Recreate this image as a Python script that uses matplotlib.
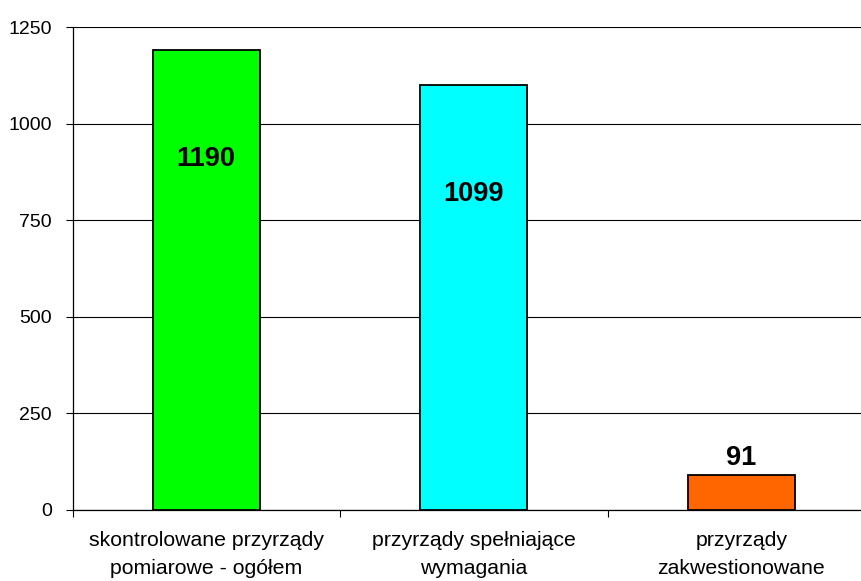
import numpy as np
import matplotlib
matplotlib.use("Agg")
import matplotlib.pyplot as plt

plt.rcParams['font.family'] = ['Liberation Sans', 'DejaVu Sans']

categories = ["skontrolowane przyrządy\npomiarowe - ogółem",
              "przyrządy spełniające\nwymagania",
              "przyrządy\nzakwestionowane"]
values = [1190, 1099, 91]
colors = ["#00ff00", "#00ffff", "#ff6600"]
yticks = [0, 250, 500, 750, 1000, 1250]

fig = plt.figure(figsize=(8.61, 5.81), dpi=100)
ax = fig.add_axes([72.5 / 861, 71 / 581, (875 - 72.5) / 861, 483 / 581])

x = np.arange(len(values))
bars = ax.bar(x, values, width=0.4, color=colors, edgecolor="black", linewidth=1.3, zorder=3)

ax.set_xlim(-0.5, len(values) - 0.5)
ax.set_ylim(0, 1250)
ax.set_yticks(yticks)
ax.set_yticklabels([str(v) for v in yticks], fontsize=14)
ax.yaxis.grid(True, color="black", linewidth=0.8, zorder=0)

# category labels centered, ticks between categories
ax.set_xticks(x)
ax.set_xticklabels(categories, fontsize=15.3, linespacing=1.6)
ax.tick_params(axis="x", length=0, pad=15)
ax.set_xticks(np.arange(len(values) + 1) - 0.5, minor=True)
ax.tick_params(axis="x", which="minor", length=5, width=0.8)
ax.tick_params(axis="y", length=5, width=0.8, pad=10)

for s in ["top", "right"]:
    ax.spines[s].set_visible(False)
ax.spines["left"].set_linewidth(0.9)
ax.spines["bottom"].set_linewidth(0.9)

for b, v in zip(bars, values):
    cx = b.get_x() + b.get_width() / 2
    if v > 500:
        ax.annotate(str(v), (cx, v), xytext=(0, -78), textcoords="offset points",
                    ha="center", va="center", fontsize=19.5, fontweight="bold")
    else:
        ax.annotate(str(v), (cx, v), xytext=(0, 12), textcoords="offset points",
                    ha="center", va="center", fontsize=19.5, fontweight="bold")

fig.savefig("out.png", dpi=100)
